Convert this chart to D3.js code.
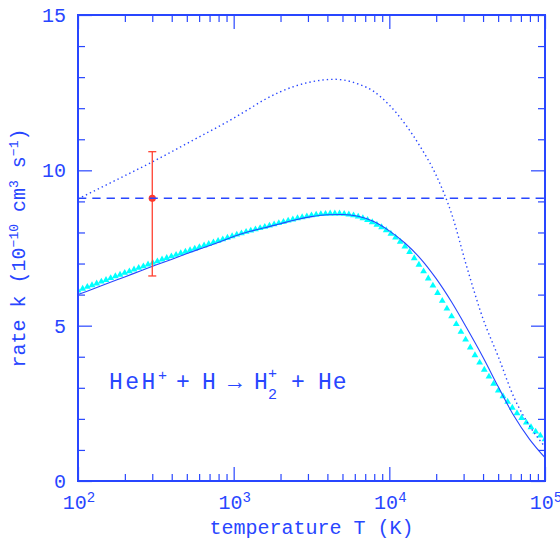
<!DOCTYPE html>
<html>
<head>
<meta charset="utf-8">
<script src="https://cdn.jsdelivr.net/npm/d3@7"></script>
<style>
body { margin: 0; background: #fff; }
svg text { font-family: "Liberation Mono", "DejaVu Sans Mono", monospace; fill: #2846ff; }
</style>
</head>
<body>
<div id="vis_container"></div>
<script>
// Solid curve: log10(T) and rate k (1e-10 cm^3 s^-1)
var solid_logT = [2.0,2.1,2.2,2.3,2.4,2.5,2.6,2.7,2.8,2.9,3.0,3.1,3.2,3.3,3.4,3.5,3.6,3.7,3.8,3.9,4.0,4.1,4.2,4.3,4.4,4.5,4.6,4.7,4.8,4.9,5.0];
var solid_k    = [6.00,6.19,6.38,6.57,6.76,6.95,7.13,7.32,7.50,7.68,7.87,8.03,8.15,8.28,8.41,8.51,8.57,8.58,8.52,8.35,8.05,7.66,7.16,6.52,5.76,4.90,4.00,3.03,2.10,1.35,0.75];

// Dotted curve
var dotted_logT = [2.0,2.25,2.5,2.75,3.0,3.1,3.2,3.3,3.4,3.5,3.6,3.65,3.7,3.8,3.9,4.0,4.1,4.2,4.3,4.4,4.5,4.6,4.7,4.8,4.9,5.0];
var dotted_k    = [9.08,9.70,10.33,11.00,11.68,11.98,12.28,12.53,12.72,12.85,12.92,12.93,12.91,12.78,12.54,12.10,11.50,10.75,9.85,8.60,6.85,5.25,4.00,2.70,1.78,1.10];

// Cyan triangles
var tri_logT = [2.00,2.03,2.06,2.09,2.12,2.15,2.18,2.21,2.24,2.27,2.30,2.33,2.36,2.39,2.42,2.45,2.48,2.51,2.54,2.57,
	2.60,2.63,2.66,2.69,2.72,2.75,2.78,2.81,2.84,2.87,2.90,2.93,2.96,2.99,3.02,3.05,3.08,3.11,3.14,3.17,
	3.20,3.23,3.26,3.29,3.32,3.35,3.38,3.41,3.44,3.47,3.50,3.53,3.56,3.59,3.62,3.65,3.68,3.71,3.74,3.77,
	3.80,3.83,3.86,3.89,3.92,3.95,3.98,4.01,4.04,4.07,4.10,4.13,4.16,4.19,4.22,4.25,4.28,4.31,4.34,4.37,
	4.40,4.43,4.46,4.49,4.52,4.55,4.58,4.61,4.64,4.67,4.70,4.73,4.76,4.79,4.82,4.85,4.88,4.91,4.94,4.97,5.00];
var tri_k = [6.13,6.19,6.25,6.30,6.36,6.42,6.47,6.53,6.59,6.64,6.70,6.75,6.81,6.86,6.91,6.97,7.02,7.07,7.13,7.18,
	7.23,7.28,7.33,7.38,7.43,7.48,7.53,7.58,7.63,7.68,7.73,7.78,7.83,7.88,7.93,7.97,8.02,8.06,8.10,8.14,
	8.18,8.22,8.26,8.30,8.34,8.38,8.42,8.46,8.49,8.52,8.55,8.57,8.59,8.60,8.61,8.61,8.61,8.60,8.58,8.55,
	8.51,8.46,8.40,8.33,8.25,8.17,8.07,7.96,7.84,7.70,7.55,7.37,7.17,6.96,6.75,6.52,6.29,6.05,5.80,5.55,
	5.30,5.05,4.80,4.55,4.30,4.05,3.81,3.58,3.36,3.13,2.91,2.73,2.55,2.36,2.18,2.03,1.88,1.73,1.59,1.46,1.34];

// Measured point with error bar and the horizontal reference value
var meas_T = 300, meas_k = 9.1, meas_lo = 6.6, meas_hi = 10.6;
var ref_k = 9.1;

var y_major = [0,5,10,15];
var y_minor = [1,2,3,4,6,7,8,9,11,12,13,14];
var x_major = [1e2,1e3,1e4,1e5];
var x_major_exp = ["2","3","4","5"];
var x_minor = [2e2,3e2,4e2,5e2,6e2,7e2,8e2,9e2,2e3,3e3,4e3,5e3,6e3,7e3,8e3,9e3,2e4,3e4,4e4,5e4,6e4,7e4,8e4,9e4];

var width = 560, height = 544;
var x0 = 78, x1 = 545, y0 = 15, y1 = 481;
var blue = "#2846ff";

var x = d3.scaleLog().domain([1e2,1e5]).range([x0,x1]);
var y = d3.scaleLinear().domain([0,15]).range([y1,y0]);

var svg = d3.select("#vis_container").append("svg")
	.attr("width", width)
	.attr("height", height);

svg.append("clipPath").attr("id","clip").append("rect")
	.attr("x",x0).attr("y",y0).attr("width",x1-x0).attr("height",y1-y0);
var inner = svg.append("g").attr("clip-path","url(#clip)");

// triangles
inner.selectAll(".tri").data(tri_logT).enter().append("path")
	.attr("class","tri")
	.attr("d", d3.symbol(d3.symbolTriangle, 20))
	.attr("transform", function(d,i) { return "translate("+x(Math.pow(10,d))+","+y(tri_k[i])+")"; })
	.style("fill","#00ffff");

var line = d3.line()
	.x(function(d) { return x(Math.pow(10,d[0])); })
	.y(function(d) { return y(d[1]); })
	.curve(d3.curveMonotoneX);

// solid curve
inner.append("path")
	.datum(solid_logT.map(function(d,i) { return [d, solid_k[i]]; }))
	.attr("d", line)
	.style("fill","none").style("stroke",blue).style("stroke-width",1.1);

// dotted curve
inner.append("path")
	.datum(dotted_logT.map(function(d,i) { return [d, dotted_k[i]]; }))
	.attr("d", line)
	.style("fill","none").style("stroke",blue).style("stroke-width",1.4)
	.style("stroke-dasharray","1.4,3");

// error bar
var ex = x(meas_T);
inner.append("line").attr("x1",ex).attr("x2",ex).attr("y1",y(meas_lo)).attr("y2",y(meas_hi))
	.style("stroke","#ff4030").style("stroke-width",1.3);
[meas_lo, meas_hi].forEach(function(v) {
	inner.append("line").attr("x1",ex-4).attr("x2",ex+4).attr("y1",y(v)).attr("y2",y(v))
		.style("stroke","#ff4030").style("stroke-width",1.3);
});
inner.append("circle").attr("cx",ex).attr("cy",y(meas_k)).attr("r",3.6).style("fill","#ff3a2a");

// dashed reference line
inner.append("line").attr("x1",x0).attr("x2",x1).attr("y1",y(ref_k)).attr("y2",y(ref_k))
	.style("stroke",blue).style("stroke-width",1.4).style("stroke-dasharray","8.3,6");

// axis ticks, pointing inward on all four sides
function ticks(axis, vals, size, tr) {
	var g = svg.append("g").attr("transform", tr)
		.call(axis.tickValues(vals).tickSize(-size).tickSizeOuter(0).tickFormat(""));
	g.select(".domain").remove();
	g.selectAll("line").style("stroke",blue).style("stroke-width",1.2);
}
ticks(d3.axisBottom(x), x_major, 14, "translate(0,"+y1+")");
ticks(d3.axisBottom(x), x_minor, 7, "translate(0,"+y1+")");
ticks(d3.axisTop(x), x_major, 14, "translate(0,"+y0+")");
ticks(d3.axisTop(x), x_minor, 7, "translate(0,"+y0+")");
ticks(d3.axisLeft(y), y_major, 14, "translate("+x0+",0)");
ticks(d3.axisLeft(y), y_minor, 7, "translate("+x0+",0)");
ticks(d3.axisRight(y), y_major, 14, "translate("+x1+",0)");
ticks(d3.axisRight(y), y_minor, 7, "translate("+x1+",0)");

svg.append("rect").attr("x",x0).attr("y",y0).attr("width",x1-x0).attr("height",y1-y0)
	.style("fill","none").style("stroke",blue).style("stroke-width",2);

// tick labels
svg.selectAll(".ylab").data(y_major).enter().append("text")
	.attr("x",66).attr("y",function(d) { return y(d)+7; })
	.style("text-anchor","end").style("font-size","20px")
	.text(function(d) { return d; });

var xl = svg.selectAll(".xlab").data(x_major).enter().append("text")
	.attr("x",function(d) { return x(d)+1; }).attr("y",509)
	.style("text-anchor","middle").style("font-size","20px");
xl.append("tspan").text("10");
xl.append("tspan").attr("dy",-7).style("font-size","14px").text(function(d,i) { return x_major_exp[i]; });

// axis titles
svg.append("text").attr("x",(x0+x1)/2).attr("y",534)
	.style("text-anchor","middle").style("font-size","20px")
	.text("temperature T (K)");

var yt = svg.append("text").attr("transform","translate(25,"+((y0+y1)/2)+") rotate(-90)")
	.style("text-anchor","middle").style("font-size","20px");
yt.append("tspan").text("rate k (10");
yt.append("tspan").attr("dy",-7).style("font-size","13px").text("\u221210");
yt.append("tspan").attr("dy",7).text(" cm");
yt.append("tspan").attr("dy",-7).style("font-size","13px").text("3");
yt.append("tspan").attr("dy",7).text(" s");
yt.append("tspan").attr("dy",-7).style("font-size","13px").text("\u22121");
yt.append("tspan").attr("dy",7).text(")");

// reaction label
var lab = svg.append("g").style("font-size","23px");
lab.append("text").attr("x",109).attr("y",389).style("letter-spacing","2.5px").text("HeH");
lab.append("text").attr("x",158).attr("y",380).style("font-size","15px").text("+");
lab.append("text").attr("x",176).attr("y",389).text("+");
lab.append("text").attr("x",202).attr("y",389).text("H");
lab.append("text").attr("x",228).attr("y",389).text("\u2192");
lab.append("text").attr("x",254).attr("y",389).text("H");
lab.append("text").attr("x",268).attr("y",378).style("font-size","15px").text("+");
lab.append("text").attr("x",268).attr("y",399).style("font-size","15px").text("2");
lab.append("text").attr("x",291).attr("y",389).text("+");
lab.append("text").attr("x",318).attr("y",389).style("letter-spacing","1px").text("He");
</script>
</body>
</html>
